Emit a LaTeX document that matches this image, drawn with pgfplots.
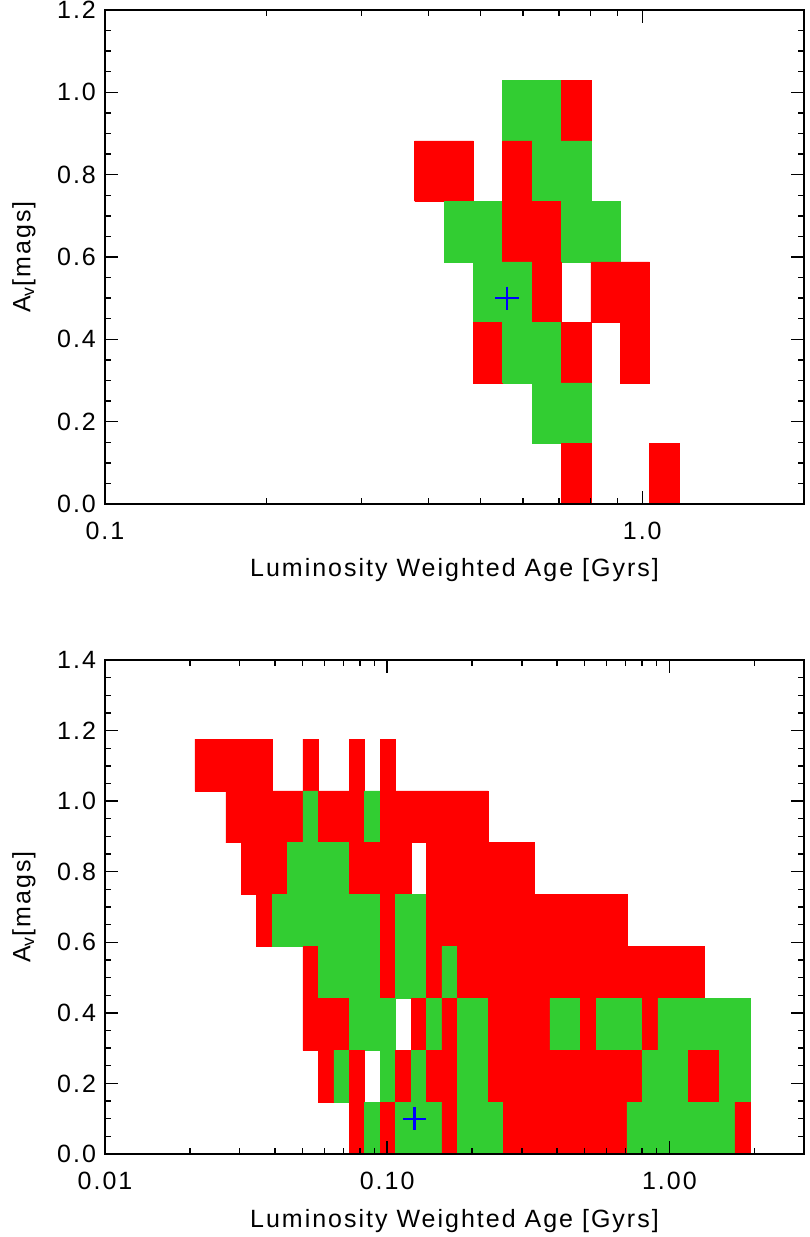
\documentclass[border=0pt]{standalone}
\usepackage{pgfplots}
\pgfplotsset{compat=1.18}
\usepackage{fontspec}
\setmainfont{Liberation Sans}[LetterSpace=8]
\definecolor{cred}{RGB}{255,0,0}
\definecolor{cgreen}{RGB}{50,205,50}
\definecolor{cblue}{RGB}{0,0,255}

% one filled block: colour, x from, x to, y from, y to
\newcommand{\blk}[5]{\addplot[draw=#1, line width=0.3pt, fill=#1, forget plot]
  coordinates {(#2,#4) (#3,#4) (#3,#5) (#2,#5) (#2,#4)};}

\pgfplotsset{
  idl/.style={
    scale only axis, width=349.5pt, height=247pt,
    ymin=0, axis on top,
    axis line style={line width=1pt},
    every tick/.style={black, line width=0.7pt},
    major tick length=6.5pt, minor tick length=3pt,
    tick align=inside, xtick pos=both, ytick pos=both,
    minor y tick num=3,
    xticklabel style={yshift=-5.3pt},
    yticklabel style={xshift=-1pt},
    xlabel={Luminosity Weighted Age [Gyrs]},
    ylabel={A\textsubscript{v}[mags]},
    xlabel style={at={([yshift=-36.5pt]axis description cs:0.5,0)}, anchor=base},
    ylabel style={at={([xshift=-40.5pt]axis description cs:0,0.5)}, anchor=center},
  }
}

\begin{document}
\begin{tikzpicture}[font=\fontsize{12.5}{15}\selectfont]
\useasboundingbox (0,0) rectangle (404.5pt,618.5pt);

% ---------------- top panel ----------------
\begin{semilogxaxis}[idl, at={(52.5pt,366.5pt)}, anchor=south west,
  xmin=0.1, xmax=2.0, ymax=1.2,
  xtick={0.1,1}, xticklabels={0.1,1.0},
  minor xtick={0.2,0.3,0.4,0.5,0.6,0.7,0.8,0.9},
  ytick={0,0.2,0.4,0.6,0.8,1.0,1.2},
  yticklabels={0.0,0.2,0.4,0.6,0.8,1.0,1.2}]
% row 0.882-1.029
\blk{cgreen}{0.5500}{0.7075}{0.882}{1.029}
\blk{cred}{0.7075}{0.8024}{0.882}{1.029}
% row 0.735-0.882
\blk{cred}{0.3771}{0.4851}{0.735}{0.882}
\blk{cred}{0.5500}{0.6238}{0.735}{0.882}
\blk{cgreen}{0.6238}{0.8024}{0.735}{0.882}
% row 0.588-0.735
\blk{cgreen}{0.4277}{0.5500}{0.588}{0.735}
\blk{cred}{0.5500}{0.7075}{0.588}{0.735}
\blk{cgreen}{0.7075}{0.9101}{0.588}{0.735}
% row 0.441-0.588
\blk{cgreen}{0.4851}{0.6238}{0.441}{0.588}
\blk{cred}{0.6238}{0.7075}{0.441}{0.588}
\blk{cred}{0.8024}{1.0323}{0.441}{0.588}
% row 0.294-0.441
\blk{cred}{0.4851}{0.5500}{0.294}{0.441}
\blk{cgreen}{0.5500}{0.7075}{0.294}{0.441}
\blk{cred}{0.7075}{0.8024}{0.294}{0.441}
\blk{cred}{0.9101}{1.0323}{0.294}{0.441}
% row 0.147-0.294
\blk{cgreen}{0.6238}{0.8024}{0.147}{0.294}
% row 0-0.147
\blk{cred}{0.7075}{0.8024}{0}{0.147}
\blk{cred}{1.0323}{1.1708}{0}{0.147}
\addplot[only marks, mark=+, mark size=5.8pt, cblue, line width=1.2pt] coordinates {(0.56,0.50)};
\end{semilogxaxis}

% ---------------- bottom panel ----------------
\begin{semilogxaxis}[idl, at={(52.5pt,41.5pt)}, anchor=south west,
  xmin=0.01, xmax=3.0, ymax=1.4,
  xtick={0.01,0.1,1}, xticklabels={0.01,0.10,1.00},
  minor xtick={0.02,0.03,0.04,0.05,0.06,0.07,0.08,0.09,0.2,0.3,0.4,0.5,0.6,0.7,0.8,0.9,2},
  ytick={0,0.2,0.4,0.6,0.8,1.0,1.2,1.4},
  yticklabels={0.0,0.2,0.4,0.6,0.8,1.0,1.2,1.4}]
% row 1.029-1.176
\blk{cred}{0.02084}{0.03912}{1.029}{1.176}
\blk{cred}{0.05031}{0.05707}{1.029}{1.176}
\blk{cred}{0.07339}{0.08325}{1.029}{1.176}
\blk{cred}{0.09441}{0.1071}{1.029}{1.176}
% row 0.882-1.029
\blk{cred}{0.02681}{0.05031}{0.882}{1.029}
\blk{cgreen}{0.05031}{0.05707}{0.882}{1.029}
\blk{cred}{0.05707}{0.08325}{0.882}{1.029}
\blk{cgreen}{0.08325}{0.09441}{0.882}{1.029}
\blk{cred}{0.09441}{0.2279}{0.882}{1.029}
% row 0.735-0.882
\blk{cred}{0.03041}{0.04436}{0.735}{0.882}
\blk{cgreen}{0.04436}{0.07339}{0.735}{0.882}
\blk{cred}{0.07339}{0.1215}{0.735}{0.882}
\blk{cred}{0.1377}{0.3325}{0.735}{0.882}
% row 0.588-0.735
\blk{cred}{0.03449}{0.03912}{0.588}{0.735}
\blk{cgreen}{0.03912}{0.09441}{0.588}{0.735}
\blk{cred}{0.09441}{0.1071}{0.588}{0.735}
\blk{cgreen}{0.1071}{0.1377}{0.588}{0.735}
\blk{cred}{0.1377}{0.7075}{0.588}{0.735}
% row 0.441-0.588
\blk{cred}{0.05031}{0.05707}{0.441}{0.588}
\blk{cgreen}{0.05707}{0.09441}{0.441}{0.588}
\blk{cred}{0.09441}{0.1071}{0.441}{0.588}
\blk{cgreen}{0.1071}{0.1377}{0.441}{0.588}
\blk{cred}{0.1377}{0.1562}{0.441}{0.588}
\blk{cgreen}{0.1562}{0.1772}{0.441}{0.588}
\blk{cred}{0.1772}{1.3281}{0.441}{0.588}
% row 0.294-0.441
\blk{cred}{0.05031}{0.07339}{0.294}{0.441}
\blk{cgreen}{0.07339}{0.1071}{0.294}{0.441}
\blk{cred}{0.1215}{0.1377}{0.294}{0.441}
\blk{cgreen}{0.1377}{0.1562}{0.294}{0.441}
\blk{cred}{0.1562}{0.1772}{0.294}{0.441}
\blk{cgreen}{0.1772}{0.2279}{0.294}{0.441}
\blk{cred}{0.2279}{0.3771}{0.294}{0.441}
\blk{cgreen}{0.3771}{0.4851}{0.294}{0.441}
\blk{cred}{0.4851}{0.5500}{0.294}{0.441}
\blk{cgreen}{0.5500}{0.8024}{0.294}{0.441}
\blk{cred}{0.8024}{0.9101}{0.294}{0.441}
\blk{cgreen}{0.9101}{1.937}{0.294}{0.441}
% row 0.147-0.294
\blk{cred}{0.05707}{0.06471}{0.147}{0.294}
\blk{cgreen}{0.06471}{0.07339}{0.147}{0.294}
\blk{cred}{0.07339}{0.08325}{0.147}{0.294}
\blk{cgreen}{0.09441}{0.1071}{0.147}{0.294}
\blk{cred}{0.1071}{0.1215}{0.147}{0.294}
\blk{cgreen}{0.1215}{0.1377}{0.147}{0.294}
\blk{cred}{0.1377}{0.1772}{0.147}{0.294}
\blk{cgreen}{0.1772}{0.2279}{0.147}{0.294}
\blk{cred}{0.2279}{0.8024}{0.147}{0.294}
\blk{cgreen}{0.8024}{1.1708}{0.147}{0.294}
\blk{cred}{1.1708}{1.506}{0.147}{0.294}
\blk{cgreen}{1.506}{1.937}{0.147}{0.294}
% row 0-0.147
\blk{cred}{0.07339}{0.08325}{0}{0.147}
\blk{cgreen}{0.08325}{0.09441}{0}{0.147}
\blk{cred}{0.09441}{0.1071}{0}{0.147}
\blk{cgreen}{0.1071}{0.1562}{0}{0.147}
\blk{cred}{0.1562}{0.1772}{0}{0.147}
\blk{cgreen}{0.1772}{0.2585}{0}{0.147}
\blk{cred}{0.2585}{0.7075}{0}{0.147}
\blk{cgreen}{0.7075}{1.708}{0}{0.147}
\blk{cred}{1.708}{1.937}{0}{0.147}
\addplot[only marks, mark=+, mark size=5.8pt, cblue, line width=1.2pt] coordinates {(0.125,0.10)};
\end{semilogxaxis}
\end{tikzpicture}
\end{document}
